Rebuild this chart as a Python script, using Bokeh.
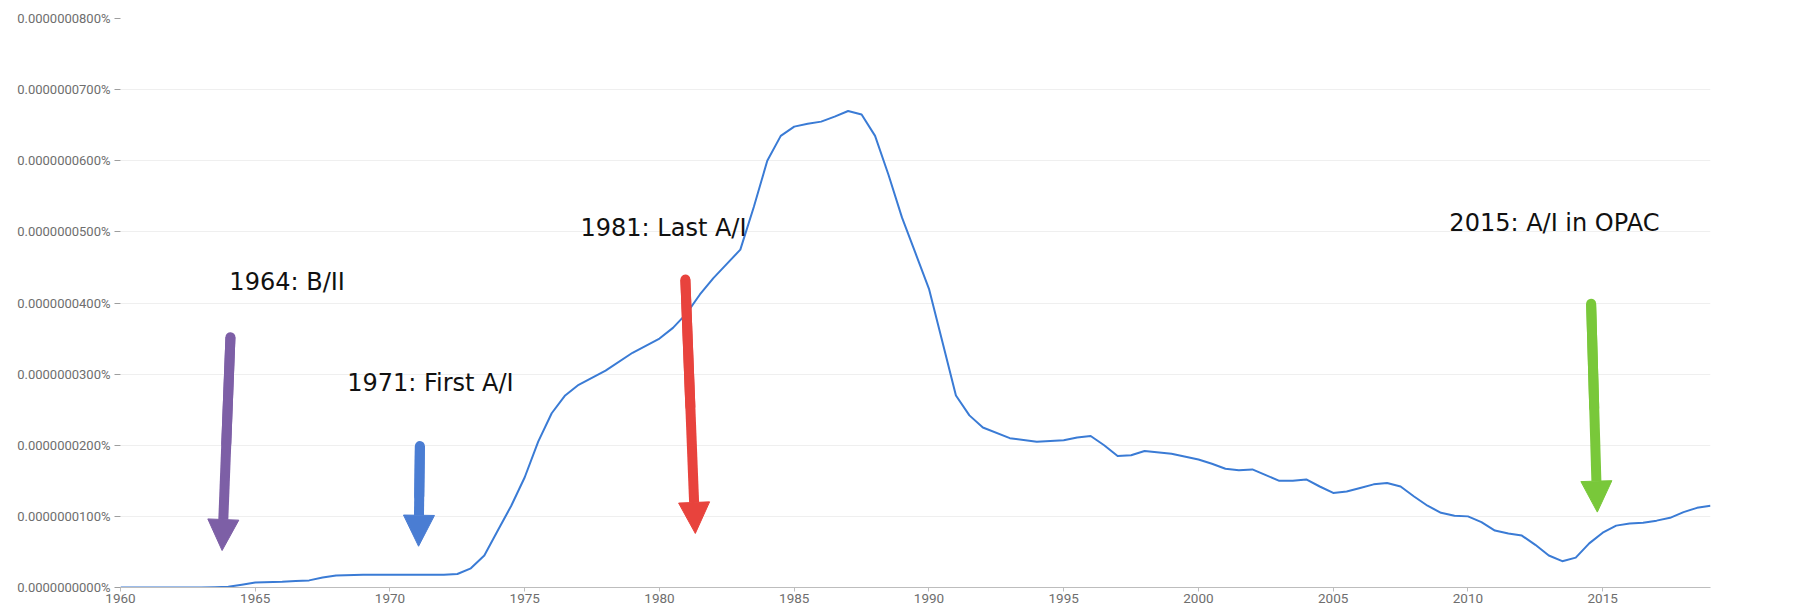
from bokeh.plotting import figure
from bokeh.models import (Arrow, NormalHead, Label, FixedTicker, CustomJSTickFormatter, Range1d)
from bokeh.embed import file_html
from bokeh.resources import INLINE

# Frequency of "not in RISM", in units of 1e-10 percent
years = [1960, 1961, 1962, 1963, 1963.5, 1964, 1964.5, 1965, 1966, 1966.5, 1967, 1967.5, 1968, 1969,
         1970, 1971, 1972, 1972.5, 1973, 1973.5, 1974, 1974.5, 1975, 1975.5, 1976, 1976.5, 1977, 1978, 1979,
         1980, 1980.5, 1981, 1981.5, 1982, 1982.5, 1983, 1983.5, 1984, 1984.5, 1985, 1985.5, 1986, 1986.5, 1987, 1987.5, 1988, 1988.5, 1989,
         1989.5, 1990, 1990.5, 1991, 1991.5, 1992, 1993, 1994, 1995, 1995.5, 1996, 1996.5, 1997, 1997.5, 1998, 1999,
         2000, 2000.5, 2001, 2001.5, 2002, 2002.5, 2003, 2003.5, 2004, 2004.5, 2005, 2005.5, 2006, 2006.5, 2007, 2007.5, 2008, 2008.5, 2009,
         2009.5, 2010, 2010.5, 2011, 2011.5, 2012, 2012.5, 2013, 2013.5, 2014, 2014.5, 2015, 2015.5, 2016, 2016.5, 2017, 2017.5, 2018, 2018.5, 2019]
values = [0, 0, 0, 0, 0.5, 1, 4, 7, 8, 9, 10, 14, 17, 18,
          18, 18, 18, 19, 27, 45, 80, 115, 155, 205, 245, 270, 285, 305, 330,
          350, 365, 385, 412, 435, 455, 475, 535, 600, 635, 648, 652, 655, 662, 670, 665, 635, 580, 520,
          470, 420, 345, 270, 242, 225, 210, 205, 207, 211, 213, 200, 185, 186, 192, 188,
          180, 174, 167, 165, 166, 158, 150, 150, 152, 142, 133, 135, 140, 145, 147, 142, 128, 115, 105,
          101, 100, 92, 80, 76, 73, 60, 45, 37, 42, 62, 77, 87, 90, 91, 94, 98, 106, 112, 115]
series_name = "not in RISM"

x_ticks = list(range(1960, 2020, 5))
y_ticks = list(range(0, 900, 100))

# annotations
note_texts = ["1964: B/II", "1971: First A/I", "1981: Last A/I", "2015: A/I in OPAC"]
note_x = [1964.04, 1968.41, 1977.07, 2009.31]
note_y = [429, 288, 505, 512]

arrow_colors = ["#7d5fa6", "#4a7dd3", "#e8433d", "#79c83a"]
arrow_x0 = [1964.08, 1971.11, 1980.96, 2014.57]
arrow_y0 = [352, 199, 433, 399]
arrow_x1 = [1963.77, 1971.06, 1981.33, 2014.80]
arrow_y1 = [52, 58, 76, 106]

LINE = "#3a7bd5"

p = figure(frame_width=1590, frame_height=569,
           x_range=Range1d(1960, 2019), y_range=Range1d(0, 800),
           output_backend="svg", toolbar_location=None,
           min_border_left=120, min_border_right=89,
           min_border_top=18, min_border_bottom=23)
p.outline_line_color = None
p.background_fill_color = "white"
p.border_fill_color = "white"

p.xgrid.visible = False
p.ygrid.grid_line_color = "#efefef"
p.ygrid.grid_line_width = 1

p.xaxis.ticker = FixedTicker(ticks=x_ticks)
p.xaxis.axis_line_color = "#bdbdbd"
p.xaxis.major_tick_line_color = "#bdbdbd"
p.xaxis.major_tick_out = 4
p.xaxis.major_tick_in = 0
p.xaxis.minor_tick_line_color = None
p.xaxis.major_label_text_font = "Roboto"
p.xaxis.major_label_text_font_size = "13.5px"
p.xaxis.major_label_text_color = "#6e6e6e"
p.xaxis.major_label_standoff = 2

p.yaxis.ticker = FixedTicker(ticks=y_ticks)
p.yaxis.formatter = CustomJSTickFormatter(code="return (tick*1e-10).toFixed(10) + '%';")
p.yaxis.axis_line_color = None
p.yaxis.major_tick_line_color = "#9e9e9e"
p.yaxis.major_tick_out = 6
p.yaxis.major_tick_in = 0
p.yaxis.minor_tick_line_color = None
p.yaxis.major_label_text_font = "Roboto"
p.yaxis.major_label_text_font_size = "13px"
p.yaxis.major_label_text_color = "#6e6e6e"
p.yaxis.major_label_standoff = 4

p.line(years, values, line_color=LINE, line_width=2, line_join="round")

p.add_layout(Label(x=years[-1], y=values[-1], text=series_name, x_offset=3,
                   text_color=LINE, text_font="Roboto", text_font_size="13px",
                   text_baseline="middle", text_align="left"))

for c, x0, y0, x1, y1 in zip(arrow_colors, arrow_x0, arrow_y0, arrow_x1, arrow_y1):
    # rounded tail
    p.add_layout(Arrow(start=None, end=None,
                       x_start=x0, y_start=y0, x_end=(x0 + x1) / 2, y_end=(y0 + y1) / 2,
                       line_color=c, line_width=10, line_cap="round"))
    # shaft + head
    p.add_layout(Arrow(end=NormalHead(size=31, fill_color=c, line_color=c, line_width=1),
                       x_start=x0, y_start=y0, x_end=x1, y_end=y1,
                       line_color=c, line_width=10, line_cap="butt"))

for t, x, y in zip(note_texts, note_x, note_y):
    p.add_layout(Label(x=x, y=y, text=t, text_font="DejaVu Sans", text_font_size="24px",
                       text_color="#111111", text_baseline="middle", text_align="left"))

open("out.html", "w").write(file_html(p, INLINE))
